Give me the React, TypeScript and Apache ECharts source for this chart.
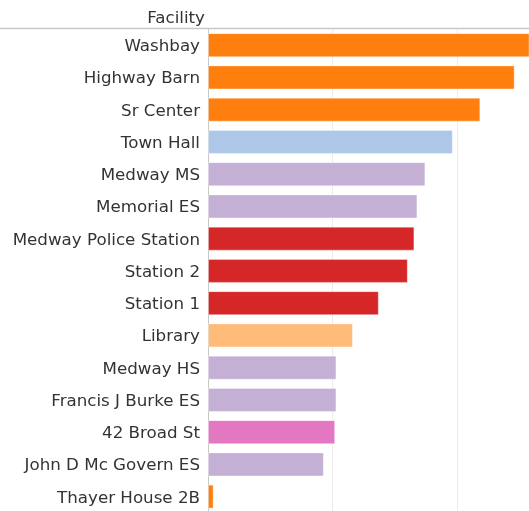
import React, { useEffect, useRef } from "react";
import * as echarts from "echarts";

const categories = [
  "Washbay",
  "Highway Barn",
  "Sr Center",
  "Town Hall",
  "Medway MS",
  "Memorial ES",
  "Medway Police Station",
  "Station 2",
  "Station 1",
  "Library",
  "Medway HS",
  "Francis J Burke ES",
  "42 Broad St",
  "John D Mc Govern ES",
  "Thayer House 2B",
];
const values = [265, 246.2, 218.6, 196.5, 174.5, 168.1, 165.7, 160.4, 137.1, 116.3, 103.1, 103.1, 102.1, 93, 4.5];
const colors = [
  "#ff7f0e",
  "#ff7f0e",
  "#ff7f0e",
  "#aec7e8",
  "#c5b0d5",
  "#c5b0d5",
  "#d62728",
  "#d62728",
  "#d62728",
  "#ffbb78",
  "#c5b0d5",
  "#c5b0d5",
  "#e377c2",
  "#c5b0d5",
  "#ff7f0e",
];
const headerLabel = "Facility";

export default function App() {
  const ref = useRef<HTMLDivElement>(null);
  useEffect(() => {
    document.body.style.margin = "0";
    const chart = echarts.init(ref.current!, null, { renderer: "svg" });
    const font = "'DejaVu Sans', sans-serif";
    chart.setOption({
      animation: false,
      grid: { left: 208, right: 0, top: 29, height: 483.75 },
      xAxis: {
        type: "value",
        min: 0,
        max: 257.7,
        interval: 100,
        axisLabel: { show: false },
        axisLine: { show: false },
        axisTick: { show: false },
        splitLine: { show: true, lineStyle: { color: "#ebebeb", width: 1 } },
      },
      yAxis: {
        type: "category",
        inverse: true,
        data: categories,
        axisTick: { show: false },
        axisLine: { show: true, lineStyle: { color: "#c8c8c8", width: 1 } },
        axisLabel: {
          color: "#333333",
          fontSize: 16.7,
          fontFamily: font,
          margin: 8,
        },
      },
      graphic: [
        {
          type: "line",
          shape: { x1: 0, y1: 28.5, x2: 529, y2: 28.5 },
          style: { stroke: "#c8c8c8", lineWidth: 1.5 },
        },
        {
          type: "text",
          x: 205,
          y: 17,
          style: {
            text: headerLabel,
            fill: "#333333",
            font: `16.7px ${font}`,
            align: "right",
            verticalAlign: "middle",
          },
        },
      ],
      series: [
        {
          type: "bar",
          clip: true,
          barWidth: 24,
          data: values.map((v, i) => ({
            value: v,
            itemStyle: {
              color: colors[i],
              borderColor: "rgba(255,255,255,0.35)",
              borderWidth: 1,
            },
          })),
        },
      ],
    });
    return () => chart.dispose();
  }, []);
  return <div ref={ref} style={{ position: "fixed", left: 0, top: 0, width: 529, height: 520 }} />;
}
